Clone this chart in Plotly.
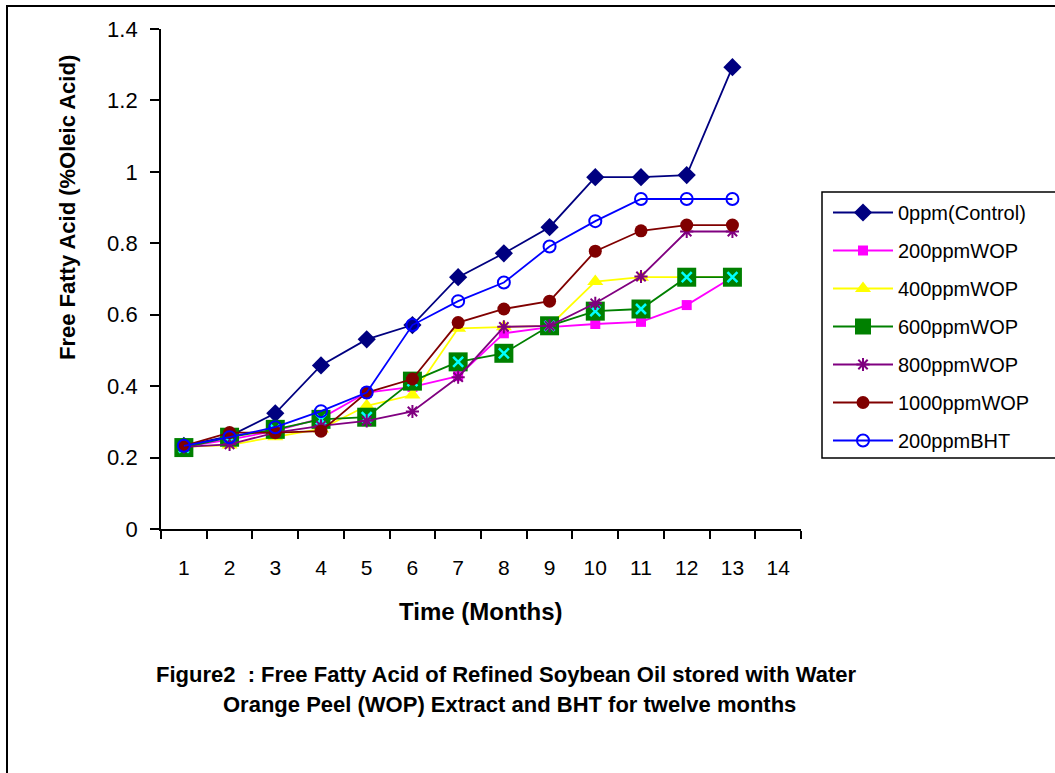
import plotly.graph_objects as go

# ---- data ----
months = [1, 2, 3, 4, 5, 6, 7, 8, 9, 10, 11, 12, 13]
tick_labels = ["1", "2", "3", "4", "5", "6", "7", "8", "9", "10", "11", "12", "13", "14"]
tick_positions = [1, 2, 3, 4, 5, 6, 7, 8, 9, 10, 11, 12, 13, 14]

control = [0.233, 0.260, 0.324, 0.458, 0.531, 0.571, 0.705, 0.772, 0.845, 0.985, 0.985, 0.991, 1.293]
wop200 = [0.230, 0.250, 0.275, 0.310, 0.382, 0.398, 0.428, 0.548, 0.565, 0.574, 0.580, 0.627, 0.705]
wop400 = [0.230, 0.235, 0.258, 0.280, 0.345, 0.375, 0.562, 0.566, 0.569, 0.693, 0.705, 0.705, 0.705]
wop600 = [0.228, 0.257, 0.279, 0.307, 0.313, 0.414, 0.468, 0.492, 0.569, 0.610, 0.616, 0.705, 0.705]
wop800 = [0.230, 0.237, 0.270, 0.289, 0.303, 0.329, 0.425, 0.566, 0.569, 0.632, 0.707, 0.833, 0.833]
wop1000 = [0.233, 0.270, 0.270, 0.274, 0.382, 0.420, 0.578, 0.616, 0.638, 0.778, 0.835, 0.851, 0.851]
bht200 = [0.233, 0.257, 0.285, 0.330, 0.382, 0.571, 0.638, 0.690, 0.791, 0.862, 0.924, 0.924, 0.924]

names = ["0ppm(Control)", "200ppmWOP", "400ppmWOP", "600ppmWOP", "800ppmWOP", "1000ppmWOP", "200ppmBHT"]

FONT = "Liberation Sans, Arial, sans-serif"

fig = go.Figure()

def add(y, name, color, symbol, size, mcolor=None, lcolor=None, lw=0, group=None):
    fig.add_trace(go.Scatter(
        x=months, y=y, name=name, mode="lines+markers",
        line=dict(color=color, width=1.8),
        marker=dict(symbol=symbol, size=size, color=mcolor or color,
                    line=dict(color=lcolor or (mcolor or color), width=lw)),
        legendgroup=group or name,
    ))

add(control, names[0], "#000080", "diamond", 14)
add(wop200, names[1], "#FF00FF", "square", 10)
add(wop400, names[2], "#FFFF00", "triangle-up", 14)
add(wop600, names[3], "#008000", "square", 19)
# cyan cross drawn inside the green squares
fig.add_trace(go.Scatter(
    x=months, y=wop600, mode="markers", showlegend=False, hoverinfo="skip",
    legendgroup=names[3],
    marker=dict(symbol="x-thin-open", size=10, color="#00FFFF", line=dict(width=2.5, color="#00FFFF")),
))
add(wop800, names[4], "#800080", "asterisk-open", 11, lw=2)
add(wop1000, names[5], "#800000", "circle", 13)
add(bht200, names[6], "#0000FF", "circle-open", 12, lw=2)

# geometry
L, R, T, B = 161, 801, 29, 529
W, H = 1055, 773
pw, ph = R - L, B - T

def px(x):
    return (x - L) / pw

def py(y):
    return (B - y) / ph

fig.update_layout(
    width=W, height=H,
    margin=dict(l=L, r=W - R, t=T, b=H - B, pad=0),
    paper_bgcolor="white", plot_bgcolor="white",
    font=dict(family=FONT, color="black", size=20),
    showlegend=True,
    legend=dict(
        x=px(828), y=py(193), xanchor="left", yanchor="top",
        bgcolor="rgba(0,0,0,0)", borderwidth=0,
        font=dict(family=FONT, size=20, color="black"),
        tracegroupgap=9, itemwidth=60, traceorder="grouped",
    ),
    xaxis=dict(
        range=[0.5, 14.5], showgrid=False, zeroline=False,
        showline=True, linecolor="black", linewidth=1.8,
        tickmode="array", tickvals=tick_positions, ticktext=tick_labels,
        ticks="", ticklabelstandoff=19,
        tickfont=dict(family=FONT, size=21, color="black"),
        minor=dict(tickmode="linear", tick0=0.5, dtick=1, ticks="outside",
                   ticklen=8, tickwidth=1.8, tickcolor="black", showgrid=False),
    ),
    yaxis=dict(
        range=[0, 1.4], showgrid=False, zeroline=False,
        showline=True, linecolor="black", linewidth=1.8,
        tickmode="array", tickvals=[0, 0.2, 0.4, 0.6, 0.8, 1.0, 1.2, 1.4],
        ticktext=["0", "0.2", "0.4", "0.6", "0.8", "1", "1.2", "1.4"],
        ticks="outside", ticklen=9, tickwidth=1.8, tickcolor="black",
        ticklabelstandoff=8,
        tickfont=dict(family=FONT, size=22, color="black"),
    ),
    shapes=[
        # outer frame
        dict(type="rect", xref="paper", yref="paper",
             x0=px(7), x1=px(W + 10), y0=py(H + 10), y1=py(6),
             line=dict(color="black", width=2), fillcolor="rgba(0,0,0,0)", layer="below"),
        # legend frame
        dict(type="rect", xref="paper", yref="paper",
             x0=px(822), x1=px(W + 10), y0=py(458), y1=py(192),
             line=dict(color="black", width=1.5), fillcolor="rgba(0,0,0,0)"),
    ],
    annotations=[
        dict(text="<b>Free Fatty Acid (%Oleic Acid)</b>", textangle=-90,
             xref="paper", yref="paper", x=px(67), y=py(208),
             xanchor="center", yanchor="middle", showarrow=False,
             font=dict(family=FONT, size=22, color="black")),
        dict(text="<b>Time (Months)</b>",
             xref="paper", yref="paper", x=px(481), y=py(611),
             xanchor="center", yanchor="middle", showarrow=False,
             font=dict(family=FONT, size=24, color="black")),
        dict(text="<b>Figure2  : Free Fatty Acid of Refined Soybean Oil stored with Water</b>",
             xref="paper", yref="paper", x=px(506), y=py(674),
             xanchor="center", yanchor="middle", showarrow=False,
             font=dict(family=FONT, size=22, color="black")),
        dict(text="<b>Orange Peel (WOP) Extract and BHT for twelve months</b>",
             xref="paper", yref="paper", x=px(509), y=py(704),
             xanchor="center", yanchor="middle", showarrow=False,
             font=dict(family=FONT, size=22, color="black")),
    ],
)

fig.write_html("out.html")
